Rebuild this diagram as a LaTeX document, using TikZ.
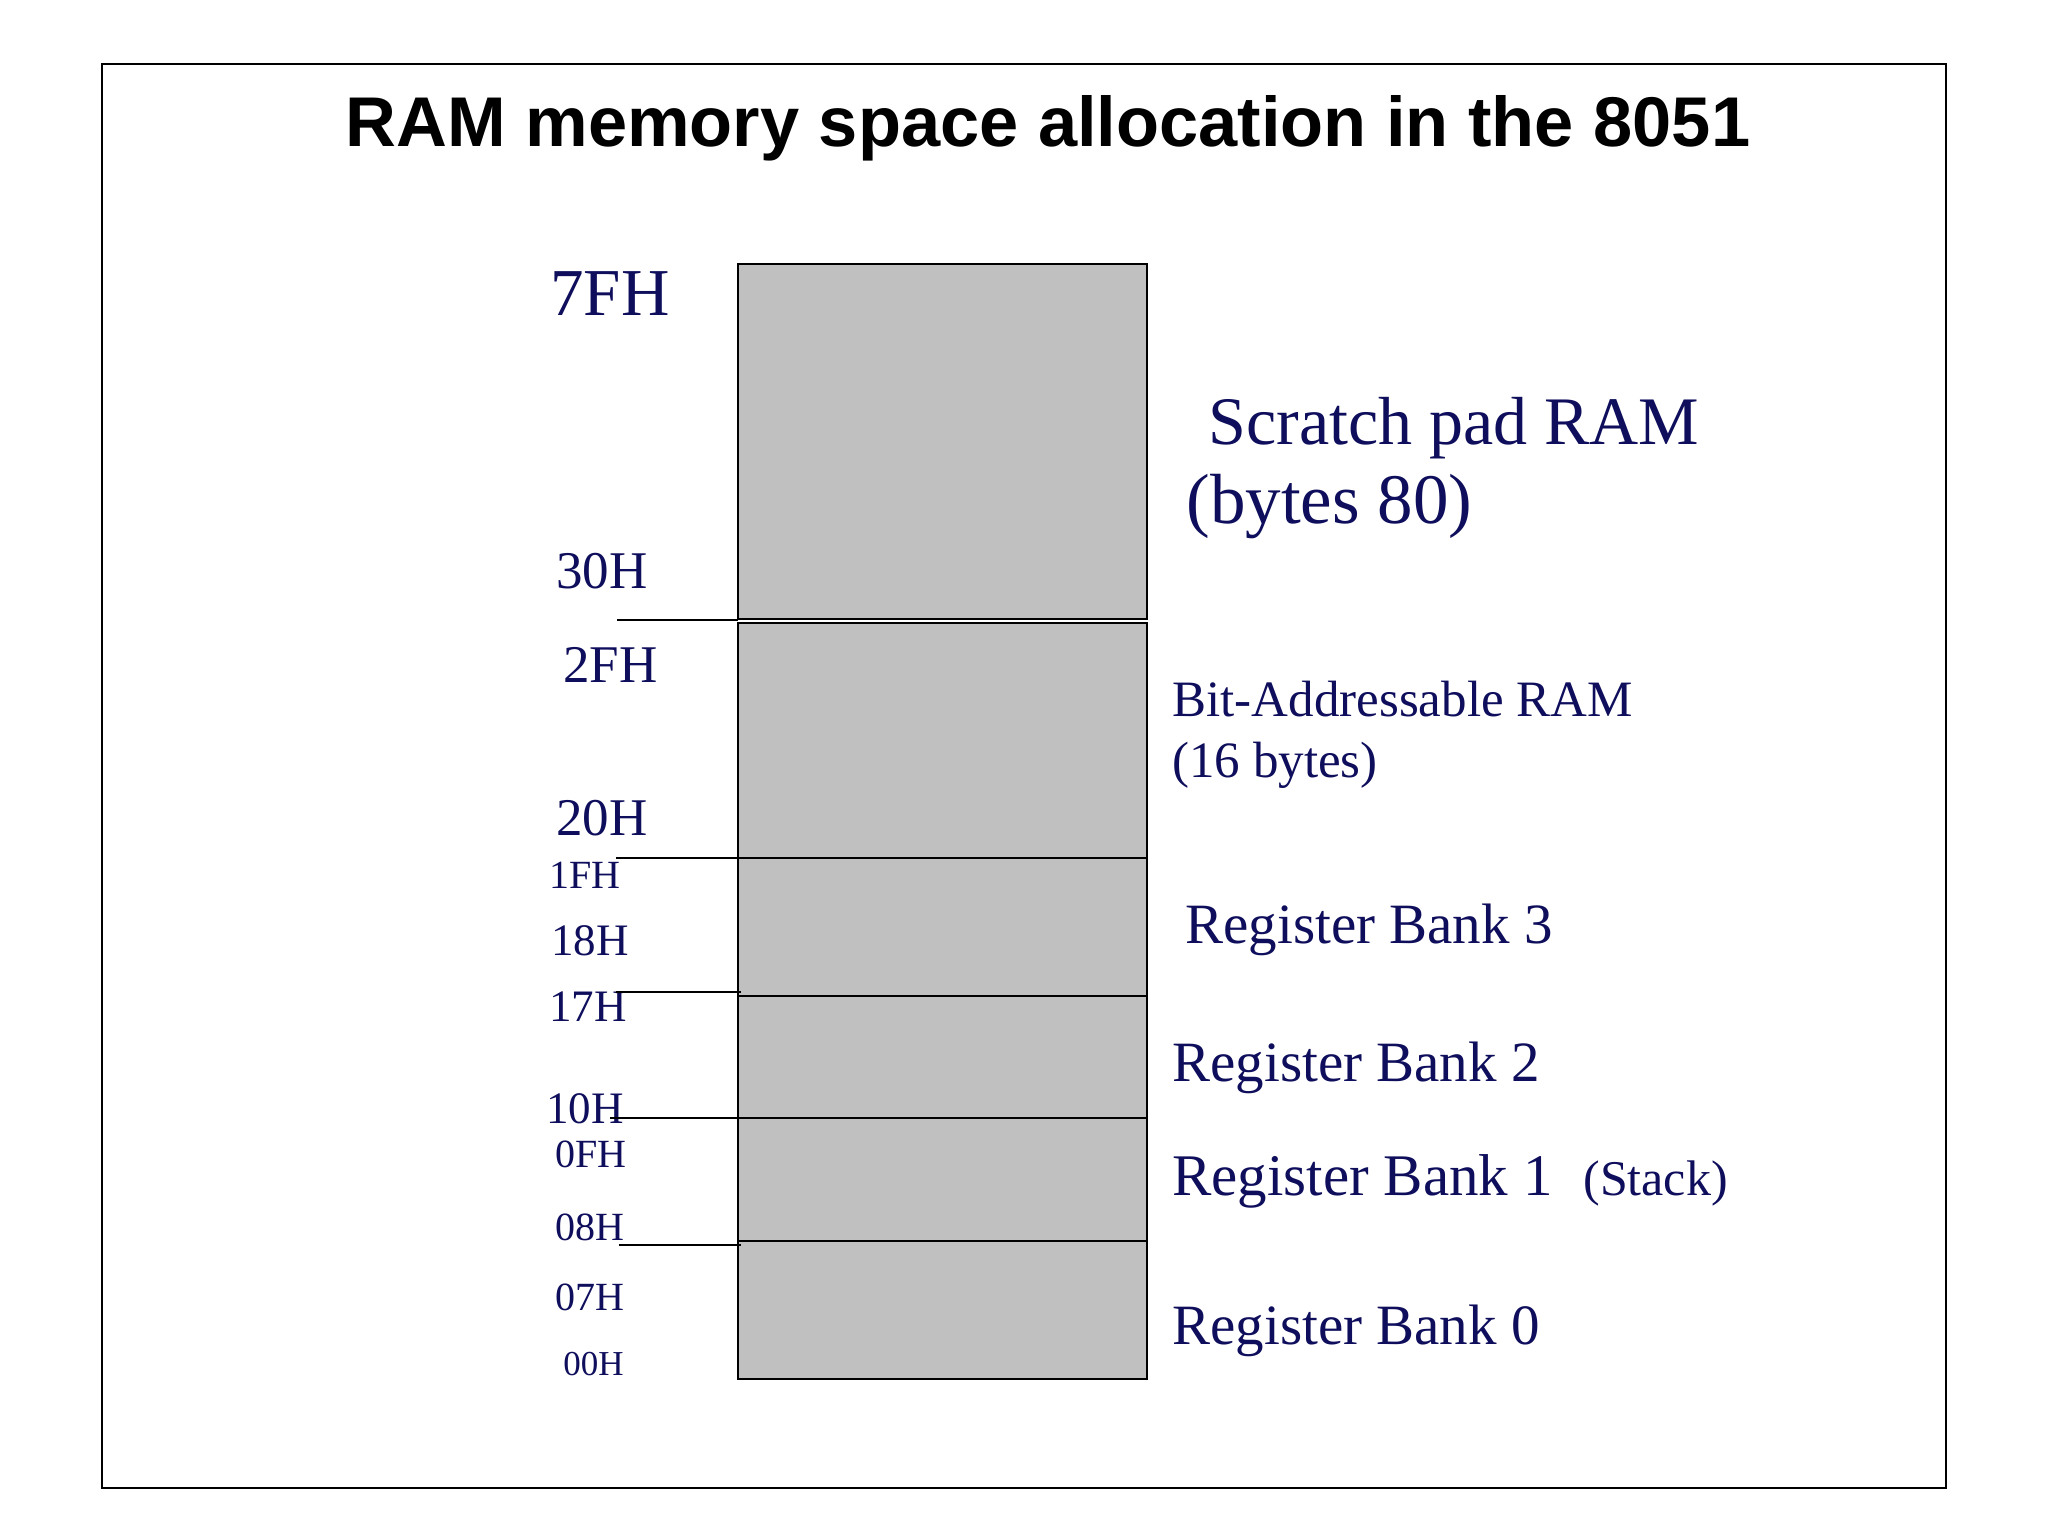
\documentclass[tikz,border=0pt]{standalone}
\usepackage{fontspec}
\setmainfont{Liberation Serif}
\newfontfamily\titlefont{Liberation Sans}
\definecolor{navy}{RGB}{14,14,92}
\definecolor{blockgray}{RGB}{192,192,192}
\newcommand{\fs}[1]{\fontsize{#1pt}{#1pt}\selectfont}
\begin{document}
\begin{tikzpicture}[x=0.5pt,y=-0.5pt,
  block/.style={draw=black, fill=blockgray, line width=1pt},
  tick/.style={draw=black, line width=0.9pt},
  addr/.style={anchor=base west, inner sep=0pt, text=navy},
  desc/.style={anchor=base west, inner sep=0pt, text=navy}]
\useasboundingbox (0,0) rectangle (2048,1536);
% frame
\draw[line width=1.25pt] (102,64) rectangle (1946,1488);
% title
\node[anchor=base, inner sep=0pt] (title) at (1048,146)
  {\titlefont\bfseries\fs{35.2}RAM memory space allocation in the 8051};
% memory blocks
\path[block] (738,264) rectangle (1147,619);
\path[block] (738,623) rectangle (1147,858);
\path[block] (738,858) rectangle (1147,996);
\path[block] (738,996) rectangle (1147,1118);
\path[block] (738,1118) rectangle (1147,1241);
\path[block] (738,1241) rectangle (1147,1379);
% named boundary points on the block edge
\coordinate (e30) at (738,620);
\coordinate (e20) at (738,858);
\coordinate (e17) at (741,992);
\coordinate (e10) at (738,1118);
\coordinate (e08) at (741,1245);
\coordinate (l30) at (617,620);
\coordinate (l20) at (616,858);
\coordinate (l17) at (616,992);
\coordinate (l10) at (610,1118);
\coordinate (l08) at (619,1245);
% address labels
\node[addr] (a7f) at (550,315) {\fs{33.5}7FH};
\node[addr] (a30) at (556,588) {\fs{26.5}30H};
\node[addr] (a2f) at (563,682) {\fs{26.5}2FH};
\node[addr] (a20) at (556,835) {\fs{26.5}20H};
\node[addr] (a1f) at (549,888) {\fs{20}1FH};
\node[addr] (a18) at (551,955) {\fs{22.5}18H};
\node[addr] (a17) at (549,1021) {\fs{22.5}17H};
\node[addr] (a10) at (546,1123) {\fs{22.5}10H};
\node[addr] (a0f) at (555,1167) {\fs{20}0FH};
\node[addr] (a08) at (555,1240) {\fs{20}08H};
\node[addr] (a07) at (555,1310) {\fs{20}07H};
\node[addr] (a00) at (563,1375) {\fs{17.5}00H};
% tick lines
\draw[tick] (l30) -- (e30);
\draw[tick] (l20) -- (e20);
\draw[tick] (l17) -- (e17);
\draw[tick] (l10) -- (e10);
\draw[tick] (l08) -- (e08);
% descriptions
\node[desc] (d1) at (1208,444) {\fs{34}Scratch pad RAM};
\node[desc] (d1b) at (1186,523) {\fs{35.5}(bytes 80)};
\node[desc] (d2) at (1172,716) {\fs{25.5}Bit-Addressable RAM};
\node[desc] (d2b) at (1172,777) {\fs{25.5}(16 bytes)};
\node[desc] (d3) at (1185,943) {\fs{28.5}Register Bank 3};
\node[desc] (d4) at (1172,1081) {\fs{28.5}Register Bank 2};
\node[desc] (d5) at (1172,1195) {\fs{29.5}Register Bank 1};
\node[desc] (d5b) at (1583,1195) {\fs{25}(Stack)};
\node[desc] (d6) at (1172,1344) {\fs{28.5}Register Bank 0};
\end{tikzpicture}
\end{document}
